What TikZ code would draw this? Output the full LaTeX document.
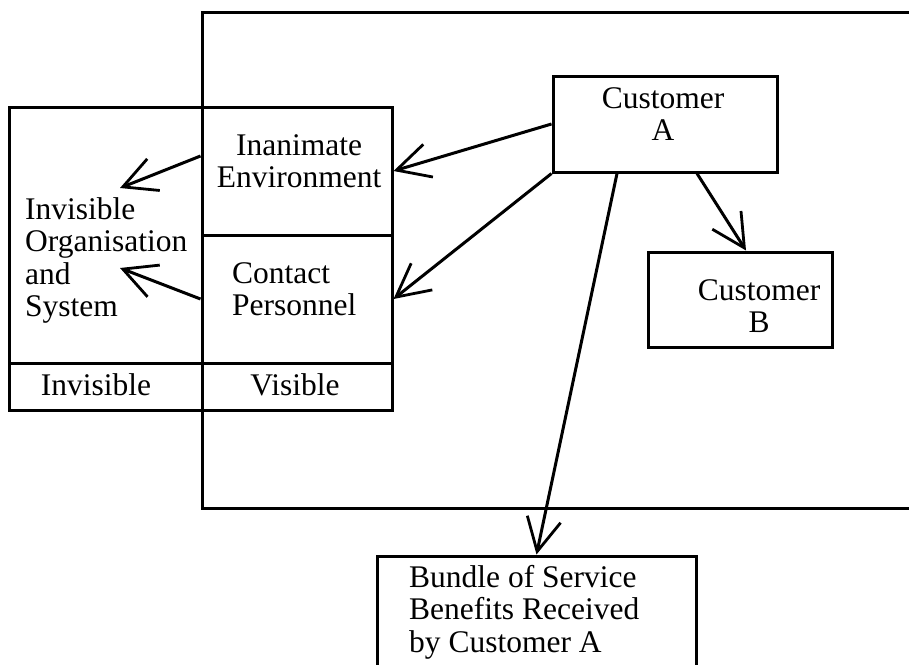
\documentclass[tikz,border=0pt]{standalone}
\usepackage{fontspec}
\setmainfont{Liberation Serif}
\usetikzlibrary{arrows.meta}
\begin{document}
\begin{tikzpicture}[x=1pt,y=-1pt,
  lw/.style={line width=3pt},
  box/.style={draw,lw,inner sep=0pt,fill=none},
  txt/.style={inner sep=0pt,font=\fontsize{31.5}{32.5}\selectfont},
  conn/.style={lw,-{Straight Barb[length=33pt,width=34pt,line width=2.8pt]}}]
\useasboundingbox (0,0) rectangle (909,664);
% big outer frame (right side beyond the picture)
\draw[lw] (930,12) -- (202,12) -- (202,508) -- (930,508);
% left block cells
\node[box,minimum width=193,minimum height=256] (org) at (105.5,235) {};
\node[box,minimum width=190,minimum height=128] (ie) at (297,171) {};
\node[box,minimum width=190,minimum height=128] (cp) at (297,299) {};
\node[box,minimum width=193,minimum height=47] (inv) at (105.5,386.5) {};
\node[box,minimum width=190,minimum height=47] (vis) at (297,386.5) {};
% customer boxes
\node[box,minimum width=224,minimum height=96] (ca) at (665,124) {};
\node[box,minimum width=184,minimum height=95] (cb) at (740,299.5) {};
\node[box,minimum width=319,minimum height=140] (bu) at (536.5,626) {};
% texts (base anchor = baseline of the last line)
\node[txt,anchor=base,align=center] (ietxt) at (299,187.5) {Inanimate\\Environment};
\node[txt,anchor=base west,align=left] (orgtxt) at (25,316.5) {Invisible\\Organisation\\and\\System};
\node[txt,anchor=base west,align=left] (cptxt) at (232,315.5) {Contact\\Personnel};
\node[txt,anchor=base] (invtxt) at (96,395) {Invisible};
\node[txt,anchor=base] (vistxt) at (295,395) {Visible};
\node[txt,anchor=base,align=center] (catxt) at (663,140.5) {Customer\\A};
\node[txt,anchor=base,align=center] (cbtxt) at (759,332.5) {Customer\\B};
\node[txt,anchor=base west,align=left] (butxt) at (409,652) {Bundle of Service\\Benefits Received\\by Customer A};
% free ends
\coordinate (ia) at (120,188);
\coordinate (ib) at (120,268);
% connectors
\draw[conn] (ca.west) -- (ie.east);
\draw[conn] (ca.south west) -- (cp.east);
\draw[conn] ([xshift=-48pt]ca.south) -- (bu.north);
\draw[conn] ([xshift=32pt]ca.south) -- ([xshift=6pt]cb.north);
\draw[conn] ([yshift=15pt]ie.west) -- (ia);
\draw[conn] (cp.west) -- (ib);
\end{tikzpicture}
\end{document}
